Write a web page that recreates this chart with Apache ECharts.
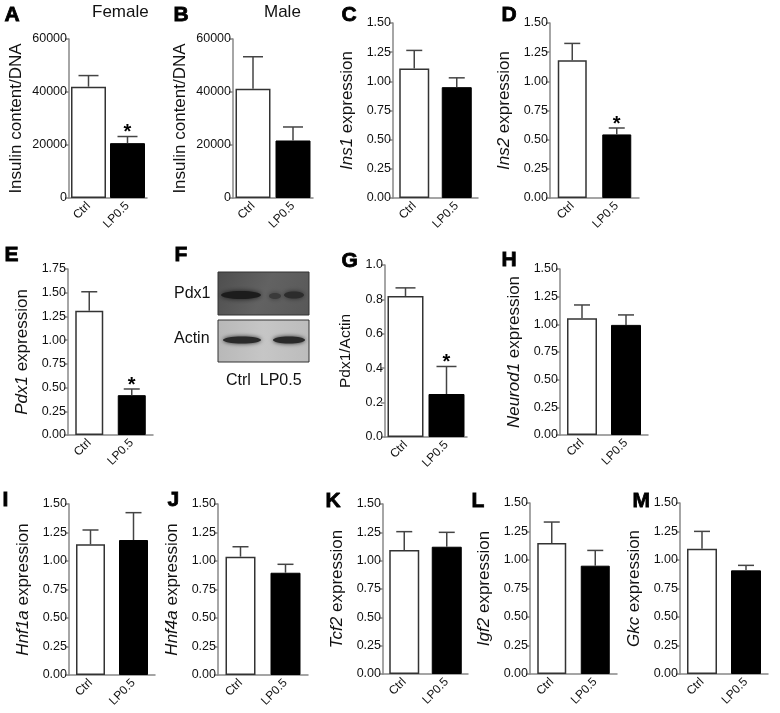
<!DOCTYPE html>
<html><head><meta charset="utf-8">
<script src="https://cdn.jsdelivr.net/npm/echarts@6/dist/echarts.min.js"></script>
<style>html,body{margin:0;padding:0;background:#fff}#c{width:780px;height:713px}</style>
</head><body><div id="c"></div>
<script>
// ---- data ----
const groups = ['Ctrl', 'LP0.5'];
const insulinTicks = [0, 20000, 40000, 60000];
const exprTicks = [0, 0.25, 0.5, 0.75, 1.0, 1.25, 1.5];
const pdx1Ticks = [0, 0.25, 0.5, 0.75, 1.0, 1.25, 1.5, 1.75];
const ratioTicks = [0, 0.2, 0.4, 0.6, 0.8, 1.0];

const insulinFemale = [42000, 20700];
const insulinFemaleErr = [4200, 2500];
const insulinMale = [41200, 21700];
const insulinMaleErr = [12100, 5100];
const ins1 = [1.11, 0.95];
const ins1Err = [0.155, 0.08];
const ins2 = [1.18, 0.545];
const ins2Err = [0.145, 0.055];
const pdx1 = [1.31, 0.42];
const pdx1Err = [0.2, 0.065];
const pdx1Actin = [0.82, 0.25];
const pdx1ActinErr = [0.047, 0.16];
const neurod1 = [1.055, 0.995];
const neurod1Err = [0.12, 0.09];
const hnf1a = [1.146, 1.184];
const hnf1aErr = [0.126, 0.24];
const hnf4a = [1.038, 0.897];
const hnf4aErr = [0.087, 0.074];
const tcf2 = [1.094, 1.123];
const tcf2Err = [0.162, 0.127];
const igf2 = [1.149, 0.95];
const igf2Err = [0.184, 0.134];
const gkc = [1.099, 0.909];
const gkcErr = [0.152, 0.044];
const sigNone = [false, false];
const sigLP = [false, true];

// ---- layout ----
const FONT = "'Liberation Sans', Arial, sans-serif";
const panels = [
  {mean: insulinFemale, err: insulinFemaleErr, sig: sigLP, ticks: insulinTicks, dec: 0, name: 'Insulin content/DNA', left: 69, top: 39, width: 78, height: 159, bw: 35, gap: 44},
  {mean: insulinMale, err: insulinMaleErr, sig: sigNone, ticks: insulinTicks, dec: 0, name: 'Insulin content/DNA', left: 233, top: 39, width: 80, height: 159, bw: 35, gap: 44},
  {mean: ins1, err: ins1Err, sig: sigNone, ticks: exprTicks, dec: 2, name: '{i|Ins1} expression', left: 393, top: 23, width: 85, height: 175, bw: 30, gap: 37},
  {mean: ins2, err: ins2Err, sig: sigLP, ticks: exprTicks, dec: 2, name: '{i|Ins2} expression', left: 550, top: 23, width: 89, height: 175, bw: 29, gap: 37},
  {mean: pdx1, err: pdx1Err, sig: sigLP, ticks: pdx1Ticks, dec: 2, name: '{i|Pdx1} expression', left: 68, top: 269, width: 85, height: 166, bw: 28, gap: 37},
  {mean: pdx1Actin, err: pdx1ActinErr, sig: sigLP, ticks: ratioTicks, dec: 1, name: 'Pdx1/Actin', left: 385, top: 265, width: 82, height: 172, bw: 36, gap: 31},
  {mean: neurod1, err: neurod1Err, sig: sigNone, ticks: exprTicks, dec: 2, name: '{i|Neurod1} expression', left: 560, top: 269, width: 88, height: 166, bw: 30, gap: 37},
  {mean: hnf1a, err: hnf1aErr, sig: sigNone, ticks: exprTicks, dec: 2, name: '{i|Hnf1a} expression', left: 69, top: 504, width: 86, height: 171, bw: 29, gap: 37},
  {mean: hnf4a, err: hnf4aErr, sig: sigNone, ticks: exprTicks, dec: 2, name: '{i|Hnf4a} expression', left: 218, top: 504, width: 90, height: 171, bw: 30, gap: 37},
  {mean: tcf2, err: tcf2Err, sig: sigNone, ticks: exprTicks, dec: 2, name: '{i|Tcf2} expression', left: 383, top: 504, width: 85, height: 170, bw: 30, gap: 37},
  {mean: igf2, err: igf2Err, sig: sigNone, ticks: exprTicks, dec: 2, name: '{i|Igf2} expression', left: 530, top: 503, width: 87, height: 171, bw: 29, gap: 37},
  {mean: gkc, err: gkcErr, sig: sigNone, ticks: exprTicks, dec: 2, name: '{i|Gkc} expression', left: 680, top: 503, width: 88, height: 171, bw: 30, gap: 37}
];

const AXIS_COLOR = '#888';
const TXT = '#111';
const grid = [], xAxis = [], yAxis = [], series = [];
panels.forEach((p, k) => {
  grid.push({left: p.left, top: p.top, width: p.width, height: p.height, containLabel: false});
  xAxis.push({
    type: 'category', gridIndex: k, data: groups,
    axisLine: {lineStyle: {color: AXIS_COLOR, width: 1.5}},
    axisTick: {alignWithLabel: true, length: 4, lineStyle: {color: AXIS_COLOR, width: 1.5}},
    axisLabel: {rotate: 45, fontSize: 12, color: TXT, fontFamily: FONT, margin: 6, interval: 0}
  });
  const t = p.ticks;
  yAxis.push({
    type: 'value', gridIndex: k, min: t[0], max: t[t.length - 1], interval: t[1] - t[0],
    splitLine: {show: false},
    axisLine: {show: true, lineStyle: {color: AXIS_COLOR, width: 1.5}},
    axisTick: {show: true, length: 4, lineStyle: {color: AXIS_COLOR, width: 1.5}},
    axisLabel: {fontSize: 12.5, color: TXT, fontFamily: FONT, margin: 2,
      formatter: v => v.toFixed(p.dec)},
    name: p.name, nameLocation: 'middle', nameGap: p.gap,
    nameTextStyle: {fontSize: k === 5 ? 15.5 : 17, color: TXT, fontFamily: FONT,
      rich: {i: {fontStyle: 'italic', fontSize: 17, fontFamily: FONT, color: TXT}}}
  });
  series.push({
    type: 'bar', xAxisIndex: k, yAxisIndex: k, barWidth: p.bw, z: 2,
    data: p.mean.map((v, i) => ({
      value: v,
      itemStyle: i === 0 ? {color: '#ffffff', borderColor: '#333', borderWidth: 1.5}
                         : {color: '#000000', borderColor: '#000', borderWidth: 1}
    }))
  });
  const cap = Math.round(p.bw * 0.28);
  series.push({
    type: 'custom', xAxisIndex: k, yAxisIndex: k, z: 3,
    data: p.mean.map((v, i) => [i, v, p.err[i], p.sig[i] ? 1 : 0]),
    renderItem: (params, api) => {
      const i = api.value(0), m = api.value(1), e = api.value(2), s = api.value(3);
      const p0 = api.coord([i, m]);
      const p1 = api.coord([i, m + e]);
      const st = {stroke: '#444', lineWidth: 1.5};
      const ch = [
        {type: 'line', shape: {x1: p0[0], y1: p0[1], x2: p1[0], y2: p1[1]}, style: st},
        {type: 'line', shape: {x1: p1[0] - cap, y1: p1[1], x2: p1[0] + cap, y2: p1[1]}, style: st}
      ];
      if (s) ch.push({type: 'text', x: p1[0], y: p1[1] - 14,
        style: {text: '*', fontSize: 20, fontWeight: 'bold', fontFamily: FONT,
          fill: '#000', align: 'center', verticalAlign: 'top'}});
      return {type: 'group', children: ch};
    }
  });
});

// ---- annotations: panel letters, titles, blot ----
const letter = (txt, x, y) => ({type: 'text', left: x, top: y, z: 10,
  style: {text: txt, fontSize: 21, fontWeight: 900, fontFamily: FONT, fill: '#000',
    stroke: '#000', lineWidth: 0.8}});
const label = (txt, x, y, size) => ({type: 'text', left: x, top: y, z: 10,
  style: {text: txt, fontSize: size || 17, fontFamily: FONT, fill: TXT}});

const graphic = [
  letter('A', 4, 4), letter('B', 173, 4), letter('C', 341, 4), letter('D', 501, 4),
  label('Female', 92, 4), label('Male', 264, 4),
  letter('E', 4, 244), letter('F', 174, 244), letter('G', 341, 250), letter('H', 501, 249),
  letter('I', 2, 489), letter('J', 167, 489), letter('K', 325, 490), letter('L', 471, 490), letter('M', 632, 490),
  // western blot (panel F)
  {type: 'rect', shape: {x: 218, y: 272, width: 91, height: 43}, z: 5,
    style: {fill: {type: 'linear', x: 0, y: 0, x2: 1, y2: 1, colorStops: [
      {offset: 0, color: '#4e4e4e'}, {offset: 0.5, color: '#626262'}, {offset: 1, color: '#585858'}]},
      stroke: '#333', lineWidth: 1}},
  {type: 'ellipse', shape: {cx: 241, cy: 295, rx: 20, ry: 4}, z: 6,
    style: {fill: '#1c1c1c', shadowBlur: 5, shadowColor: '#1c1c1c'}},
  {type: 'ellipse', shape: {cx: 275, cy: 296, rx: 6, ry: 3}, z: 6,
    style: {fill: '#3a3a3a', shadowBlur: 5, shadowColor: '#3a3a3a'}},
  {type: 'ellipse', shape: {cx: 294, cy: 295, rx: 10, ry: 3.5}, z: 6,
    style: {fill: '#2c2c2c', shadowBlur: 5, shadowColor: '#2c2c2c'}},
  {type: 'rect', shape: {x: 218, y: 320, width: 91, height: 42}, z: 5,
    style: {fill: {type: 'linear', x: 0, y: 0, x2: 1, y2: 0, colorStops: [
      {offset: 0, color: '#b8b8b8'}, {offset: 0.5, color: '#c6c6c6'}, {offset: 1, color: '#bcbcbc'}]},
      stroke: '#333', lineWidth: 1}},
  {type: 'ellipse', shape: {cx: 242, cy: 340, rx: 19, ry: 3.5}, z: 6,
    style: {fill: '#2a2a2a', shadowBlur: 4, shadowColor: '#2a2a2a'}},
  {type: 'ellipse', shape: {cx: 289, cy: 340, rx: 16, ry: 3.5}, z: 6,
    style: {fill: '#2a2a2a', shadowBlur: 4, shadowColor: '#2a2a2a'}},
  label('Pdx1', 174, 286, 16), label('Actin', 174, 331, 16),
  label('Ctrl  LP0.5', 226, 373, 16)
];

const chart = echarts.init(document.getElementById('c'), null, {renderer: 'canvas'});
chart.setOption({
  backgroundColor: '#ffffff',
  animation: false,
  textStyle: {fontFamily: FONT},
  grid, xAxis, yAxis, series, graphic
});
</script></body></html>
